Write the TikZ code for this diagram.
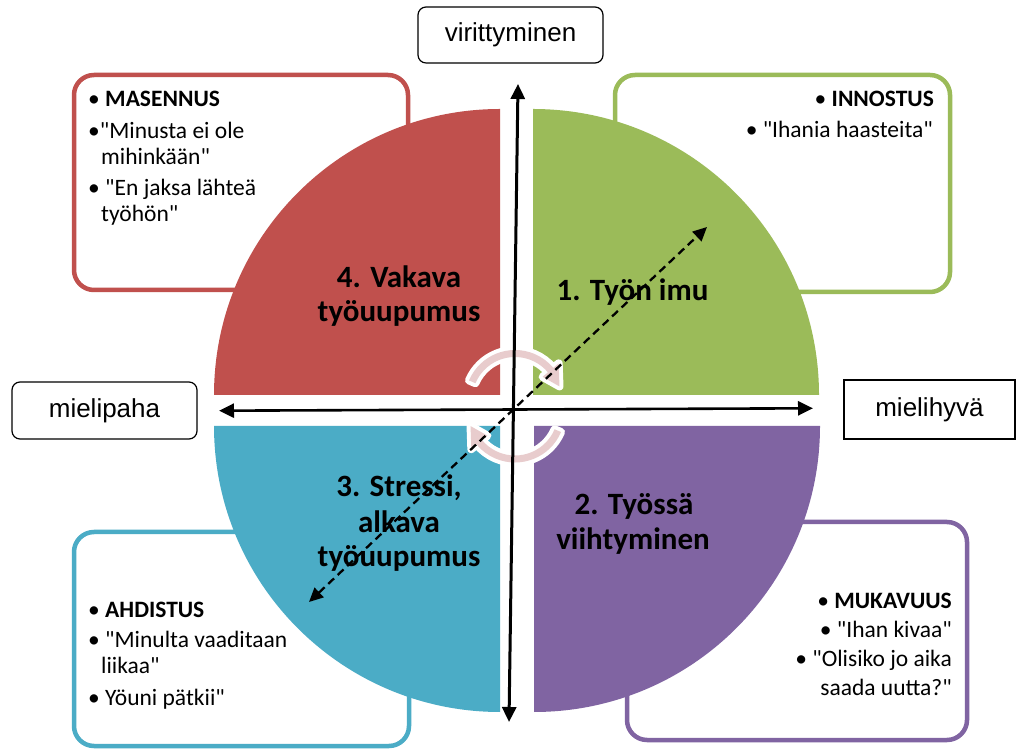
\documentclass[tikz,border=0pt]{standalone}
\usepackage{fontspec}
\setmainfont{Carlito}[Ligatures=TeXOff]
\newfontfamily\axisfont{Liberation Sans}[Ligatures=TeXOff]
\usetikzlibrary{arrows.meta}
\definecolor{qred}{HTML}{C0504D}
\definecolor{qgreen}{HTML}{9BBB59}
\definecolor{qblue}{HTML}{4BACC6}
\definecolor{qpurple}{HTML}{8064A2}
\definecolor{cycpink}{RGB}{232,204,205}

\begin{document}
\begin{tikzpicture}[x=1pt,y=1pt,
  quotebox/.style={draw=#1, line width=4.5pt, rounded corners=20pt, fill=white},
  axisbox/.style={draw=black, line width=1.2pt, rounded corners=8pt, fill=white,
    font=\axisfont\fontsize{26}{30}\selectfont, inner sep=0pt},
  qtext/.style={font=\fontsize{31}{35}\selectfont\bfseries, inner sep=0pt, anchor=base},
  ltext/.style={font=\fontsize{23.5}{28}\selectfont, inner sep=0pt, anchor=base west},
  rtext/.style={font=\fontsize{23.5}{28}\selectfont, inner sep=0pt, anchor=base east},
  axisarrow/.style={line width=3pt,
    {Triangle[length=15pt,width=14pt]}-{Triangle[length=15pt,width=14pt]}},
  diagarrow/.style={line width=2.3pt, dash pattern=on 8pt off 5pt,
    {Triangle[length=14pt,width=13pt]}-{Triangle[length=14pt,width=13pt]}},
  cycarrow/.style={preaction={draw=white, line width=8pt, line join=round}, fill=cycpink}
]
\useasboundingbox (0,0) rectangle (1016,749);
\fill[white] (0,0) rectangle (1016,749);

% quote boxes behind the quarters
\draw[quotebox=qred]    (74,674) rectangle (408,459);
\draw[quotebox=qgreen]  (615,674) rectangle (950,457);
\draw[quotebox=qblue]   (74,217) rectangle (409,3);
\draw[quotebox=qpurple] (627,227) rectangle (967,9);

% four quarters of the disc
\fill[qred]    (500,354) -- (214,354) arc[start angle=180, end angle=90, radius=286] -- cycle;
\fill[qgreen]  (533,354) -- (533,640) arc[start angle=90, end angle=0, radius=286] -- cycle;
\fill[qblue]   (500,323) -- (500,37) arc[start angle=270, end angle=180, radius=286] -- cycle;
\fill[qpurple] (534,323) -- (820,323) arc[start angle=0, end angle=-90, radius=286] -- cycle;

% circular arrows at the centre
\begin{scope}[shift={(515,349)}]
  \path[cycarrow] (157:50) arc[start angle=157, end angle=40, radius=50]
    -- (40:57) -- (17:46.5) -- (40:36) -- (40:43)
    arc[start angle=40, end angle=157, radius=43] -- cycle;
\end{scope}
\begin{scope}[shift={(515,336.5)}, rotate=180]
  \path[cycarrow] (157:50) arc[start angle=157, end angle=40, radius=50]
    -- (40:57) -- (17:46.5) -- (40:36) -- (40:43)
    arc[start angle=40, end angle=157, radius=43] -- cycle;
\end{scope}

% axes
\coordinate (vbot) at (509,27);
\coordinate (vtop) at (518,665);
\coordinate (hleft) at (219,338.3);
\coordinate (hright) at (813,340.7);
\draw[axisarrow] (vbot) -- (vtop);
\draw[axisarrow, line width=2.6pt] (hleft) -- (hright);

% diagonal dashed arrow
\coordinate (dlow) at (309,147);
\coordinate (dhigh) at (707,522);
\draw[diagarrow] (dlow) -- (dhigh);

% axis labels
\node[axisbox, minimum width=185pt, minimum height=56pt] (vir) at (510.5,714) {virittyminen};
\node[axisbox, minimum width=185pt, minimum height=57pt] (pah) at (104.5,338.5) {mielipaha};
\node[axisbox, sharp corners, minimum width=171pt, minimum height=59pt] (hyv) at (929.5,339.5) {mielihyvä};

% quarter titles
\node[qtext] (q4a) at (399,461) {4. Vakava};
\node[qtext] (q4b) at (399,427) {työuupumus};
\node[qtext] (q1)  at (632.5,448) {1. Työn imu};
\node[qtext] (q3a) at (399,252) {3. Stressi,};
\node[qtext] (q3b) at (399,216) {alkava};
\node[qtext] (q3c) at (399,182) {työuupumus};
\node[qtext] (q2a) at (634,234) {2. Työssä};
\node[qtext] (q2b) at (633,199) {viihtyminen};

% box texts
\node[ltext] (m1) at (88,642) {• \textbf{MASENNUS}};
\node[ltext] (m2) at (88,610) {•"Minusta ei ole};
\node[ltext] (m3) at (101,584) {mihinkään"};
\node[ltext] (m4) at (88,553) {• "En jaksa lähteä};
\node[ltext] (m5) at (101,527) {työhön"};

\node[rtext] (i1) at (934,642) {• \textbf{INNOSTUS}};
\node[rtext] (i2) at (933,611) {• "Ihania haasteita"};

\node[ltext] (a1) at (88,131) {• \textbf{AHDISTUS}};
\node[ltext] (a2) at (88,101) {• "Minulta vaaditaan};
\node[ltext] (a3) at (101,75) {liikaa"};
\node[ltext] (a4) at (88,44) {• Yöuni pätkii"};

\node[rtext] (p1) at (952,140) {• \textbf{MUKAVUUS}};
\node[rtext] (p2) at (952,111) {• "Ihan kivaa"};
\node[rtext] (p3) at (952,82) {• "Olisiko jo aika};
\node[rtext] (p4) at (952,54) {saada uutta?"};
\end{tikzpicture}
\end{document}
